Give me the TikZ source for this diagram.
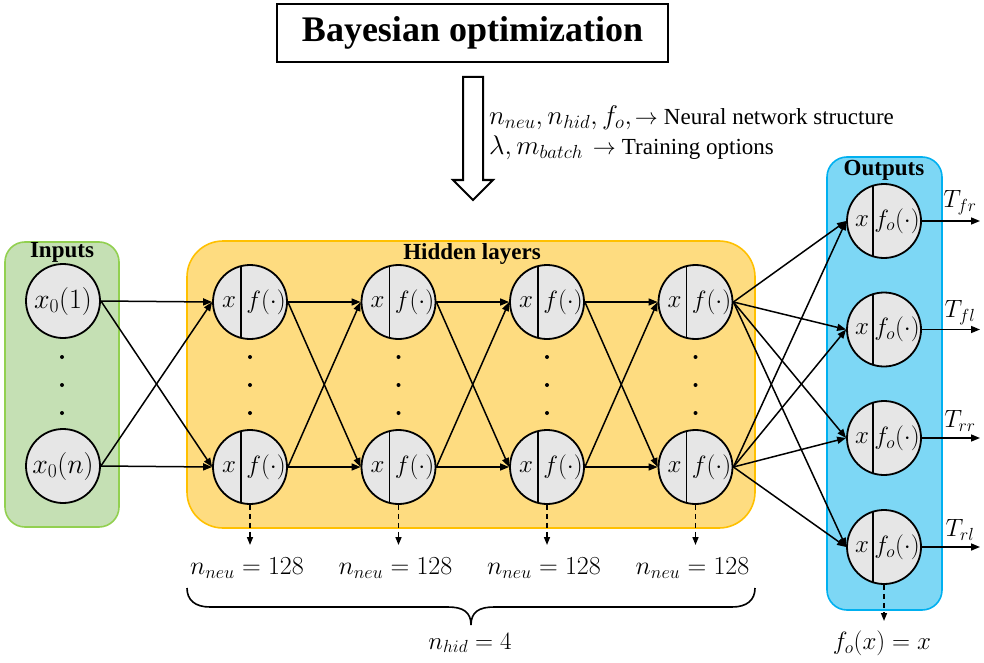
\documentclass[tikz,border=0pt]{standalone}
\usepackage{fix-cm}
\usepackage{fontspec}
\setmainfont{Liberation Serif}
\usetikzlibrary{arrows.meta}

\definecolor{ingreen}{HTML}{C5E0B4}
\definecolor{ingreenline}{HTML}{92D050}
\definecolor{hidgold}{HTML}{FEDC80}
\definecolor{hidgoldline}{HTML}{FFC000}
\definecolor{outblue}{HTML}{7DD7F5}
\definecolor{outblueline}{HTML}{00B0F0}
\definecolor{cellgray}{HTML}{E6E6E6}

% larger size for formulas set inside running text
\newcommand{\bigmath}[1]{{\fontsize{27}{30}\selectfont$#1$}}

\tikzset{
  panel/.style={line width=1.6pt, rounded corners=#1},
  unit/.style={circle, draw, line width=1.8pt, fill=cellgray, minimum size=74pt, inner sep=0pt},
  splitunit/.style={unit, path picture={\draw[line width=1.7pt]
      ([xshift=#1]path picture bounding box.north) -- ([xshift=#1]path picture bounding box.south);}},
  ntext/.style={inner sep=0pt, font=\fontsize{25}{29}\selectfont},
  heading/.style={inner sep=0pt, font=\fontsize{23}{27}\selectfont\bfseries},
  body/.style={inner sep=0pt, font=\fontsize{23}{27}\selectfont},
  mlabel/.style={inner sep=0pt, font=\fontsize{25}{29}\selectfont},
  nlabel/.style={inner sep=0pt, font=\fontsize{26}{30}\selectfont},
  conn/.style={line width=1.5pt, -{Triangle[length=9pt,width=7pt]}},
  dashconn/.style={line width=1.5pt, dash pattern=on 5pt off 4pt, -{Triangle[length=8pt,width=6pt]}},
  vdot/.style={circle, fill=black, inner sep=0pt, minimum size=4pt},
}

% hidden unit: name, x, y
\newcommand{\hidunit}[3]{%
  \node[splitunit=-9pt] (#1) at (#2,#3) {};
  \node[ntext] (#1-in) at ([xshift=-21pt]#1.center) {$x$};
  \node[ntext] (#1-act) at ([xshift=16pt]#1.center) {$f(\cdot)$};
}
% output unit: name, x, y
\newcommand{\outunit}[3]{%
  \node[splitunit=-11pt] (#1) at (#2,#3) {};
  \node[ntext] (#1-in) at ([xshift=-22pt]#1.center) {$x$};
  \node[ntext] (#1-act) at ([xshift=13pt]#1.center) {$f_o(\cdot)$};
}

\begin{document}
\begin{tikzpicture}[x=1pt, y=-1pt]
\useasboundingbox (0,0) rectangle (984,663);

% title
\node[draw, line width=2pt, minimum width=391pt, minimum height=58pt,
      font=\fontsize{36}{40}\selectfont\bfseries] (title) at (472.5,33) {Bayesian optimization};

% hollow arrow from the optimizer down to the network
\draw[line width=2pt, fill=white, line join=miter]
  (463,77) -- (483,77) -- (483,180) -- (493,180) -- (473,200) -- (453,180) -- (463,180) -- cycle;
\node[body, anchor=west] (hyp1) at (489,118) {\bigmath{n_{neu}, n_{hid}, f_o,}\kern3pt$\rightarrow$\kern6pt Neural network structure};
\node[body, anchor=west] (hyp2) at (489,148) {\bigmath{\lambda, m_{batch}}\kern10pt$\rightarrow$\kern6pt Training options};

% panels
\draw[panel=20pt, fill=ingreen, draw=ingreenline] (5,242) rectangle (119,527);
\draw[panel=36pt, fill=hidgold, draw=hidgoldline] (187,241) rectangle (755,528);
\draw[panel=20pt, fill=outblue, draw=outblueline] (827,157) rectangle (942,610);

\node[heading] (inlab) at (62,252) {Inputs};
\node[heading] (hidlab) at (472,254) {Hidden layers};
\node[heading] (outlab) at (884,170) {Outputs};

% input units
\node[unit, font=\fontsize{28}{32}\selectfont] (in1) at (63,301) {$x_0(1)$};
\node[unit, font=\fontsize{28}{32}\selectfont] (inn) at (63,466) {$x_0(n)$};
\foreach \yy [count=\k] in {357,385,413} \node[vdot] (indot\k) at (62,\yy) {};

% hidden units
\foreach \c/\xx in {1/250, 2/398.5, 3/547, 4/695.5}{
  \hidunit{h\c t}{\xx}{302}
  \hidunit{h\c b}{\xx}{467}
  \foreach \yy [count=\k] in {357,385,413} \node[vdot] (hdot\c-\k) at (\xx,\yy) {};
  \coordinate (nend\c) at (\xx,545);
  \draw[dashconn] (h\c b.south) -- (nend\c);
  \node[nlabel] (nlab\c) at (\xx-3,568) {$n_{neu} = 128$};
}

% output units
\foreach \o/\yy in {1/221, 2/329.5, 3/438, 4/547}{
  \outunit{o\o}{884}{\yy}
  \coordinate (oend\o) at (980,\yy);
  \draw[conn] (o\o.east) -- (oend\o);
}
\node[mlabel] (tfr) at (960,203) {$T_{fr}$};
\node[mlabel] (tfl) at (960,313) {$T_{fl}$};
\node[mlabel] (trr) at (960,421) {$T_{rr}$};
\node[mlabel] (trl) at (960,530) {$T_{rl}$};

\coordinate (oact) at (884,621);
\draw[dashconn] (o4.south) -- (oact);
\node[mlabel] (olab) at (882,643) {$f_o(x) = x$};

% connections: inputs to first hidden layer
\foreach \s in {in1, inn}
  \foreach \t in {h1t, h1b}
    \draw[conn] (\s.east) -- (\t.west);

% connections between hidden layers
\foreach \a/\b in {1/2, 2/3, 3/4}
  \foreach \s in {t, b}
    \foreach \t in {t, b}
      \draw[conn] (h\a\s.east) -- (h\b\t.west);

% connections: last hidden layer to outputs
\foreach \s in {h4t, h4b}
  \foreach \o in {1,2,3,4}
    \draw[conn] (\s.east) -- (o\o.west);

% brace over the hidden layers
\draw[line width=1.6pt]
  (187,588) .. controls (187,600) and (195,607) .. (210,607) -- (448,607)
  .. controls (463,607) and (471,612) .. (471,625)
  .. controls (471,612) and (479,607) .. (494,607) -- (732,607)
  .. controls (747,607) and (755,600) .. (755,588);
\node[mlabel] (hidcount) at (470,643) {$n_{hid} = 4$};
\end{tikzpicture}
\end{document}
